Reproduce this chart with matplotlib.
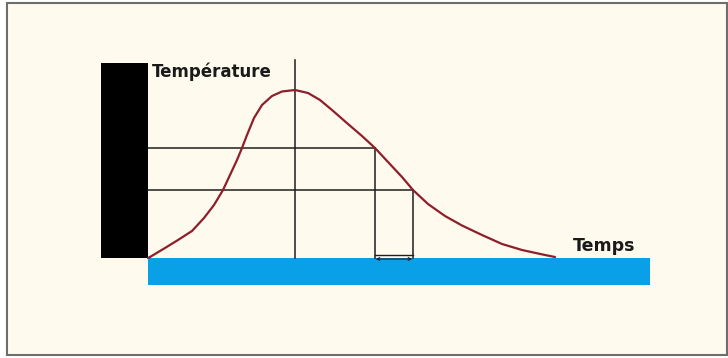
import matplotlib.pyplot as plt
from matplotlib.patches import Rectangle

# Temperature curve (time units, temperature units)
temps_t = [0.0, 0.2, 1.7, 3.0, 4.4, 5.6, 6.6, 7.5, 8.2, 8.9, 9.4, 9.9, 10.6,
           11.4, 12.4, 13.4, 14.7, 16.0, 17.2, 18.4, 20.0, 21.4, 22.7, 24.0,
           25.4, 26.5, 28.0, 29.7, 31.4, 33.4, 35.4, 37.4, 39.7, 40.7]
temps_T = [0.0, 0.1, 1.0, 1.8, 2.7, 4.0, 5.3, 6.8, 8.3, 9.8, 11.0, 12.3, 14.0,
           15.3, 16.2, 16.65, 16.8, 16.5, 15.8, 14.8, 13.4, 12.2, 11.0, 9.6,
           8.1, 6.8, 5.4, 4.2, 3.25, 2.3, 1.4, 0.8, 0.3, 0.1]

# Key points of the construction
t_peak = 14.7
T_peak_line = 19.8
t_a, T_a = 22.7, 11.0
t_b, T_b = 26.5, 6.8

# Bars (black wall and blue time axis)
wall_width = 4.7
wall_height = 19.5
floor_length = 50.2
floor_depth = 2.7

fig = plt.figure(figsize=(7.28, 3.58), dpi=100)
fig.patch.set_facecolor('white')
ax = fig.add_axes([0, 0, 1, 1])
ax.set_xlim(-14.8, 58.0)
ax.set_ylim(-10.0, 25.8)
ax.axis('off')

# cream background with grey frame
ax.add_patch(Rectangle((-14.1, -9.7), 72.0, 35.2, facecolor='#fefaee',
                       edgecolor='#6e6e6e', linewidth=1.5, zorder=0))

ax.add_patch(Rectangle((-wall_width, 0), wall_width, wall_height,
                       facecolor='black', edgecolor='none', zorder=2))
ax.add_patch(Rectangle((0, -floor_depth), floor_length, floor_depth,
                       facecolor='#0aa0e8', edgecolor='none', zorder=2))

lc = '#1e1e1e'
ax.plot([t_peak, t_peak], [0, T_peak_line], color=lc, lw=1.1, zorder=3)
ax.plot([0, t_a], [T_a, T_a], color=lc, lw=1.1, zorder=3)
ax.plot([0, t_b], [T_b, T_b], color=lc, lw=1.1, zorder=3)
ax.plot([t_a, t_a], [0, T_a], color=lc, lw=1.1, zorder=3)
ax.plot([t_b, t_b], [0, T_b], color=lc, lw=1.1, zorder=3)
ax.plot([t_a, t_b], [0.3, 0.3], color=lc, lw=1.0, zorder=3)
ax.annotate('', xy=(t_a - 0.2, -0.1), xytext=(t_b + 0.2, -0.1),
            arrowprops=dict(arrowstyle='<->', color=lc, lw=0.8,
                            mutation_scale=5), zorder=4)

ax.plot(temps_t, temps_T, color='#8e1f2a', lw=1.6, solid_joinstyle='round',
        solid_capstyle='round', zorder=4)

ax.text(0.4, 18.6, 'Température', fontsize=12, fontweight='bold',
        family='DejaVu Sans', color='#1a1a1a', va='center', ha='left')
ax.text(42.5, 1.2, 'Temps', fontsize=12.5, fontweight='bold',
        family='DejaVu Sans', color='#1a1a1a', va='center', ha='left')

fig.savefig('out.png', dpi=100)
